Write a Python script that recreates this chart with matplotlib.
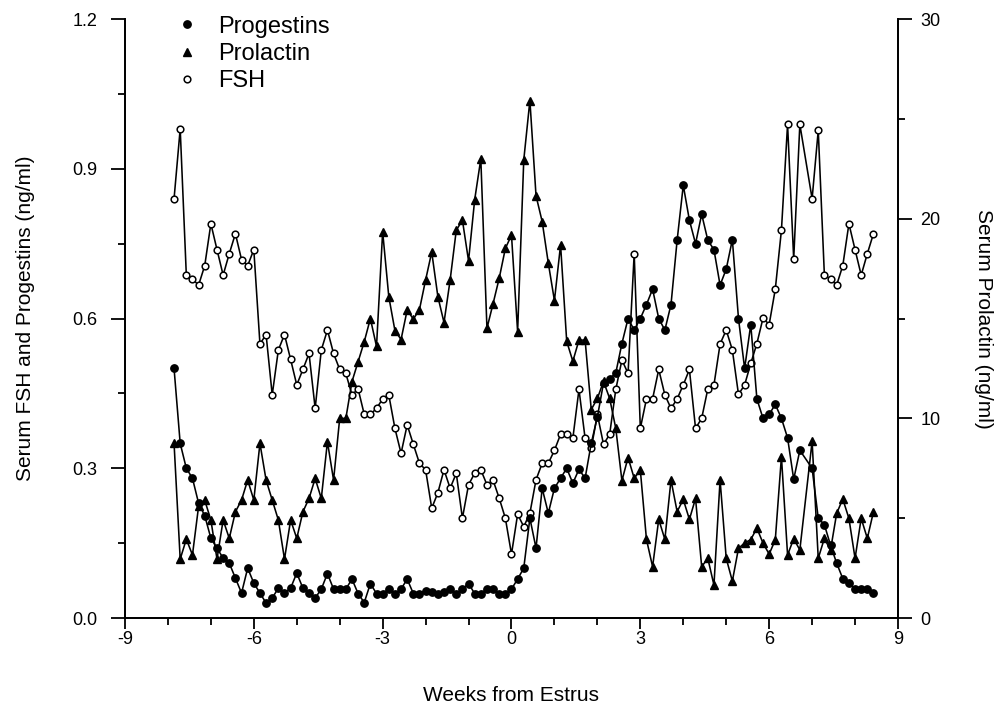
import matplotlib
matplotlib.use("Agg")
import matplotlib.pyplot as plt
from matplotlib.lines import Line2D
from matplotlib.ticker import MultipleLocator, FormatStrFormatter

plt.rcParams['font.family'] = ['Liberation Sans', 'DejaVu Sans']
plt.rcParams['axes.unicode_minus'] = False

# sampling days relative to estrus (day 48 not sampled)
days = [d for d in range(-55, 60) if d != 48]

progestins = [
    0.50, 0.35, 0.30, 0.28, 0.23, 0.205, 0.16, 0.14, 0.12, 0.11,   # -55..-46
    0.08, 0.05, 0.10, 0.07, 0.05, 0.03, 0.04, 0.06, 0.05, 0.06,    # -45..-36
    0.09, 0.06, 0.05, 0.04, 0.058, 0.089, 0.058, 0.058, 0.058, 0.078,  # -35..-26
    0.049, 0.031, 0.069, 0.049, 0.049, 0.058, 0.049, 0.058, 0.078, 0.049,  # -25..-16
    0.049, 0.055, 0.053, 0.049, 0.053, 0.058, 0.049, 0.058, 0.069, 0.049,  # -15..-6
    0.049, 0.058, 0.058, 0.049, 0.049, 0.058, 0.078, 0.10, 0.20, 0.14,    # -5..4
    0.26, 0.21, 0.26, 0.28, 0.30, 0.27, 0.298, 0.28, 0.35, 0.403,         # 5..14
    0.471, 0.479, 0.491, 0.55, 0.60, 0.577, 0.60, 0.628, 0.659, 0.60,     # 15..24
    0.577, 0.628, 0.757, 0.867, 0.797, 0.750, 0.809, 0.757, 0.738, 0.667, # 25..34
    0.699, 0.758, 0.60, 0.50, 0.588, 0.439, 0.40, 0.408, 0.428, 0.40,     # 35..44
    0.361, 0.278, 0.336,                                                  # 45..47
    0.30, 0.20, 0.187, 0.146, 0.11, 0.079, 0.07, 0.058, 0.058, 0.058, 0.05,  # 49..59
]

prolactin = [
    8.75, 2.95, 3.95, 3.16, 5.6, 5.9, 4.91, 2.95, 4.91, 3.99,      # -55..-46
    5.32, 5.91, 6.91, 5.91, 8.75, 6.91, 5.91, 4.91, 2.95, 4.91,    # -45..-36
    3.99, 5.32, 5.99, 6.99, 5.99, 8.83, 6.91, 10.0, 10.0, 11.84,   # -35..-26
    12.84, 13.84, 15.0, 13.6, 19.35, 16.1, 14.4, 13.95, 15.43, 14.97,  # -25..-16
    15.45, 16.93, 18.33, 16.1, 14.8, 16.93, 19.42, 19.93, 17.89, 20.95,  # -15..-6
    23.0, 14.51, 15.75, 17.02, 18.51, 19.18, 14.34, 22.94, 25.92, 21.15,  # -5..4
    19.86, 17.78, 15.9, 18.69, 13.86, 12.86, 13.92, 13.92, 10.44, 11.0,   # 5..14
    11.85, 11.0, 9.5, 6.88, 8.04, 7.0, 7.41, 3.94, 2.57, 4.94,           # 15..24
    3.94, 6.91, 5.33, 5.94, 4.94, 5.99, 2.57, 2.99, 1.65, 6.92,          # 25..34
    2.99, 1.85, 3.49, 3.76, 3.93, 4.5, 3.75, 3.2, 3.92, 8.08,            # 35..44
    3.16, 3.97, 3.41,                                                    # 45..47
    8.85, 2.99, 3.99, 3.4, 5.24, 5.96, 4.99, 2.99, 4.99, 3.99, 5.32,     # 49..59
]

fsh = [
    0.84, 0.98, 0.687, 0.679, 0.667, 0.706, 0.790, 0.738, 0.687, 0.730,  # -55..-46
    0.770, 0.718, 0.706, 0.738, 0.549, 0.568, 0.447, 0.537, 0.568, 0.518,  # -45..-36
    0.467, 0.498, 0.530, 0.420, 0.537, 0.577, 0.530, 0.498, 0.490, 0.447,  # -35..-26
    0.459, 0.408, 0.408, 0.420, 0.439, 0.447, 0.380, 0.330, 0.387, 0.348,  # -25..-16
    0.310, 0.297, 0.220, 0.251, 0.297, 0.26, 0.29, 0.20, 0.267, 0.29,      # -15..-6
    0.297, 0.267, 0.276, 0.24, 0.20, 0.128, 0.208, 0.183, 0.21, 0.277,     # -5..4
    0.310, 0.310, 0.336, 0.368, 0.368, 0.36, 0.458, 0.36, 0.34, 0.408,     # 5..14
    0.348, 0.368, 0.458, 0.517, 0.49, 0.73, 0.38, 0.439, 0.439, 0.498,     # 15..24
    0.447, 0.420, 0.439, 0.467, 0.498, 0.380, 0.400, 0.459, 0.467, 0.549,  # 25..34
    0.577, 0.537, 0.448, 0.467, 0.510, 0.550, 0.601, 0.588, 0.659, 0.777,  # 35..44
    0.989, 0.719, 0.989,                                                   # 45..47
    0.840, 0.977, 0.687, 0.679, 0.667, 0.706, 0.790, 0.738, 0.687, 0.730, 0.770,  # 49..59
]

weeks = [d / 7.0 for d in days]

fig = plt.figure(figsize=(9.99, 7.06), dpi=100)
ax = fig.add_axes([0.1251, 0.1246, 0.7738, 0.8484])
ax2 = ax.twinx()

lw = 1.15
ax.plot(weeks, fsh, color='black', lw=lw, marker='o', ms=4.8, mfc='white',
        mec='black', mew=1.1, zorder=2)
ax.plot(weeks, progestins, color='black', lw=lw, marker='o', ms=5.3,
        mfc='black', mec='black', zorder=3)
ax2.plot(weeks, prolactin, color='black', lw=lw, marker='^', ms=5.3,
         mfc='black', mec='black', zorder=3)

ax.set_xlim(-9, 9)
ax.set_ylim(0, 1.2)
ax2.set_ylim(0, 30)

for a in (ax, ax2):
    a.spines['top'].set_visible(False)
    for s in a.spines.values():
        s.set_linewidth(1.3)

ax.xaxis.set_major_locator(MultipleLocator(3))
ax.xaxis.set_minor_locator(MultipleLocator(1))
ax.yaxis.set_major_locator(MultipleLocator(0.3))
ax.yaxis.set_minor_locator(MultipleLocator(0.15))
ax.yaxis.set_major_formatter(FormatStrFormatter('%.1f'))
ax2.yaxis.set_major_locator(MultipleLocator(10))
ax2.yaxis.set_minor_locator(MultipleLocator(5))

ax.tick_params(axis='x', which='major', direction='out', length=8, width=1.3,
               labelsize=13, pad=1.5)
ax.tick_params(axis='x', which='minor', direction='out', length=5, width=1.3)
ax.tick_params(axis='y', which='major', direction='out', length=10, width=1.3,
               labelsize=13, pad=10)
ax.tick_params(axis='y', which='minor', direction='out', length=5, width=1.3)
ax2.tick_params(axis='y', which='major', direction='out', length=10, width=1.3,
                labelsize=13, pad=6)
ax2.tick_params(axis='y', which='minor', direction='out', length=5, width=1.3)

ax.set_xlabel('Weeks from Estrus', fontsize=15, labelpad=27)
ax.set_ylabel('Serum FSH and Progestins (ng/ml)', fontsize=15, labelpad=27)
ax2.set_ylabel('Serum Prolactin (ng/ml)', fontsize=15, rotation=270, labelpad=38)

handles = [
    Line2D([], [], color='black', marker='o', linestyle='none', ms=5.3),
    Line2D([], [], color='black', marker='^', linestyle='none', ms=5.3),
    Line2D([], [], color='black', marker='o', linestyle='none', ms=4.8,
           mfc='white', mew=1.1),
]
leg = ax2.legend(handles, ['Progestins', 'Prolactin', 'FSH'], loc='upper left',
                 bbox_to_anchor=(0.038, 1.041), frameon=False, fontsize=17,
                 handlelength=1.0, handletextpad=0.8, labelspacing=0.22)

fig.savefig('out.png', dpi=100)
